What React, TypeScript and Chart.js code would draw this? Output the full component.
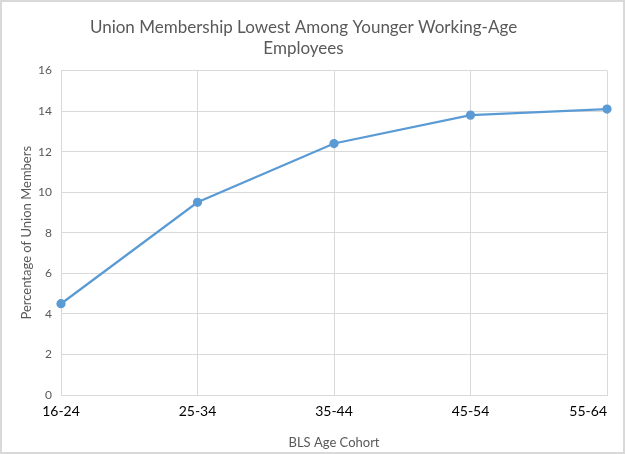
import React, { useEffect, useRef } from "react";
import { Chart, registerables } from "chart.js";

Chart.register(...registerables);

const categories = ["16-24", "25-34", "35-44", "45-54", "55-64"];
const unionPct = [4.5, 9.5, 12.4, 13.8, 14.1];
const titleLines = ["Union Membership Lowest Among Younger Working-Age", "Employees"];
const yTitle = "Percentage of Union Members";
const xTitle = "BLS Age Cohort";

const FONT = "Lato, 'Open Sans', sans-serif";

const borderPlugin = {
  id: "outerBorder",
  beforeDraw(chart: any) {
    const { ctx, width, height } = chart;
    ctx.save();
    ctx.fillStyle = "#ffffff";
    ctx.fillRect(0, 0, width, height);
    ctx.restore();
    const xs = chart.scales.x;
    if (xs && xs.getLabelItems) {
      const items = xs.getLabelItems();
      if (items && items.length) {
        const last = items[items.length - 1];
        last.options.textAlign = "right";
      }
    }
  },
  afterDraw(chart: any) {
    const { ctx, width, height } = chart;
    ctx.save();
    ctx.strokeStyle = "#d9d9d9";
    ctx.lineWidth = 2;
    ctx.strokeRect(1, 1, width - 2, height - 2);
    ctx.restore();
  },
};

export default function App() {
  const ref = useRef<HTMLCanvasElement>(null);
  useEffect(() => {
    document.body.style.margin = "0";
    const chart = new Chart(ref.current!, {
      type: "line",
      data: {
        labels: categories,
        datasets: [
          {
            data: unionPct,
            borderColor: "#5b9bd5",
            backgroundColor: "#5b9bd5",
            borderWidth: 2.25,
            pointRadius: 3.5,
            pointBackgroundColor: "#5b9bd5",
            pointBorderColor: "#5b9bd5",
            tension: 0,
          },
        ],
      },
      options: {
        responsive: false,
        animation: false,
        layout: { padding: { top: 0, right: 18, left: 0, bottom: 0 } },
        plugins: {
          legend: { display: false },
          tooltip: { enabled: false },
          title: {
            display: true,
            text: titleLines,
            color: "#595959",
            font: { family: FONT, size: 17, weight: "normal", lineHeight: 1.25 },
            padding: { top: 17, bottom: 11 },
          },
        },
        scales: {
          x: {
            offset: false,
            grid: { color: "#d9d9d9", drawTicks: false },
            border: { color: "#d9d9d9" },
            ticks: {
              color: "#000000",
              font: { family: FONT, size: 14 },
              padding: 8,
              maxRotation: 0,
            },
            title: {
              display: true,
              text: xTitle,
              color: "#595959",
              font: { family: FONT, size: 13 },
              padding: { top: 0, bottom: 3 },
            },
            afterFit(scale: any) {
              scale.height = 59;
              scale.paddingRight = 0;
              scale.paddingLeft = 0;
            },
          },
          y: {
            min: 0,
            max: 16,
            grid: { color: "#d9d9d9", drawTicks: false },
            border: { color: "#d9d9d9" },
            ticks: {
              stepSize: 2,
              color: "#595959",
              font: { family: FONT, size: 12 },
              padding: 9,
            },
            title: {
              display: true,
              text: yTitle,
              color: "#595959",
              font: { family: FONT, size: 13 },
              padding: { top: 19, bottom: 0 },
            },
            afterFit(scale: any) {
              scale.width = 61;
            },
          },
        },
      },
      plugins: [borderPlugin],
    } as any);
    return () => chart.destroy();
  }, []);
  return (
    <div style={{ width: 625, height: 454 }}>
      <canvas ref={ref} width={625} height={454} />
    </div>
  );
}
